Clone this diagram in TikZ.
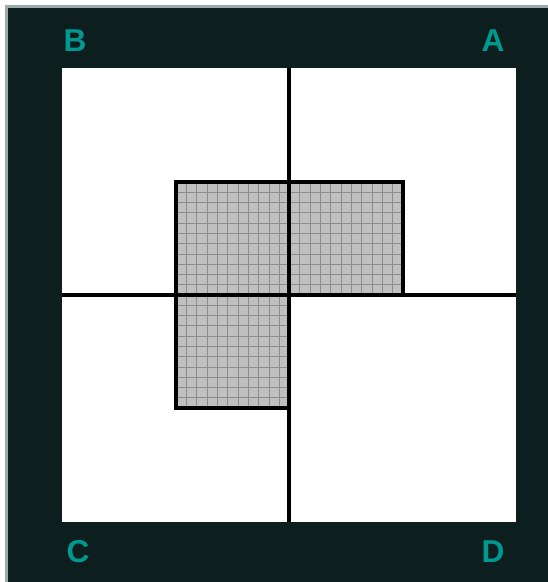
\documentclass[tikz,border=0pt]{standalone}
\usepackage{fontspec}
\setmainfont{Liberation Sans}
\usetikzlibrary{positioning}
\definecolor{frameDark}{HTML}{0D1E1F}
\definecolor{frameEdge}{HTML}{9AABAA}
\definecolor{cornerTeal}{HTML}{00998F}
\definecolor{cellFill}{HTML}{C0C0C0}
\definecolor{cellLine}{HTML}{8C8C8C}
\begin{document}
\begin{tikzpicture}[
  x=0.02cm, y=-0.02cm,
  corner/.style={text=cornerTeal, font=\fontsize{18}{20}\selectfont\bfseries, inner sep=0pt},
  axis/.style={line width=2pt, black},
  shadedpart/.style={fill=cellFill}
]
\useasboundingbox (0,0) rectangle (548,582);
% frame
\fill[frameEdge] (5,5) rectangle (548,582);
\fill[frameDark] (8,8) rectangle (548,582);
\fill[white] (62,68) rectangle (516,522);
% shaded region with fine grid
\fill[shadedpart] (176,182) -- (403,182) -- (403,295) -- (289,295) -- (289,408) -- (176,408) -- cycle;
\begin{scope}
  \clip (176,182) -- (403,182) -- (403,295) -- (289,295) -- (289,408) -- (176,408) -- cycle;
  \foreach \k in {1,...,21} {
    \draw[cellLine, line width=0.4pt] ({176+\k*113.5/11},182) -- ({176+\k*113.5/11},408);
    \draw[cellLine, line width=0.4pt] (176,{182+\k*113/11}) -- (403,{182+\k*113/11});
  }
\end{scope}
\draw[axis] (176,182) -- (403,182) -- (403,295) -- (289,295) -- (289,408) -- (176,408) -- cycle;
% quadrant axes
\coordinate (top) at (289,68);
\coordinate (bottom) at (289,522);
\coordinate (left) at (62,295);
\coordinate (right) at (516,295);
\draw[axis] (top) -- (bottom);
\draw[axis] (left) -- (right);
% corner labels
\node[corner] (labB) at (75,41) {B};
\node[corner] (labA) at (493,41) {A};
\node[corner] (labC) at (78,552) {C};
\node[corner] (labD) at (493,552) {D};
\end{tikzpicture}
\end{document}
